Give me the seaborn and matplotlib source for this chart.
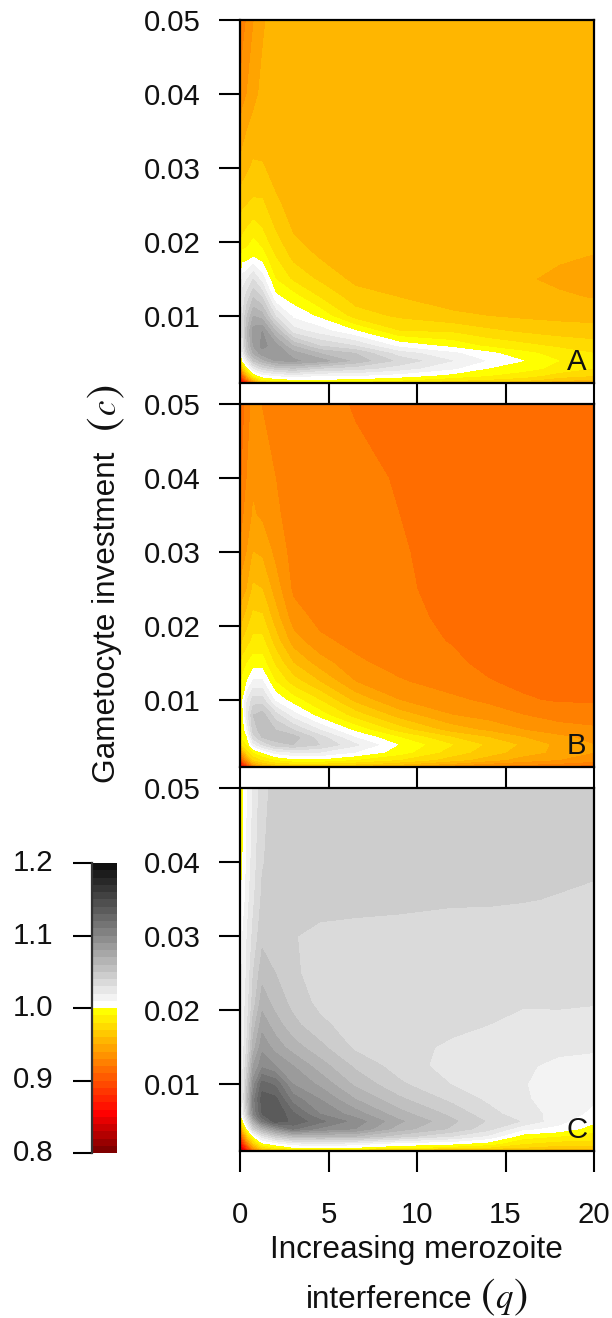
import numpy as np
import matplotlib
matplotlib.use("Agg")
import matplotlib.pyplot as plt
from matplotlib.colors import ListedColormap, BoundaryNorm
import seaborn as sns

# grid of the three surfaces
q_vals = [0, 0.15, 0.4, 0.75, 1.25, 2, 3, 4.5, 6.5, 9, 12, 14, 16, 18, 20]
c_vals = [0.001, 0.0015, 0.002, 0.003, 0.004, 0.005, 0.006, 0.008, 0.01,
          0.0125, 0.015, 0.018, 0.021, 0.025, 0.03, 0.035, 0.04, 0.05]

# one list per q, going up in c
panel_a = [
    [.84, .86, .89, .93, .97, .99, .995, .998, .998, .997, .995, .985, .975, .965, .952, .942, .93, .92],
    [.85, .88, .91, .96, 1.0, 1.015, 1.025, 1.03, 1.03, 1.025, 1.015, .995, .98, .968, .955, .946, .936, .925],
    [.875, .92, .955, .995, 1.02, 1.045, 1.055, 1.06, 1.05, 1.035, 1.02, .995, .983, .97, .958, .95, .94, .931],
    [.92, .96, .99, 1.02, 1.05, 1.07, 1.08, 1.085, 1.07, 1.05, 1.03, 1.0, .988, .972, .962, .953, .947, .939],
    [.96, .99, 1.005, 1.035, 1.065, 1.085, 1.093, 1.09, 1.065, 1.04, 1.015, .995, .982, .972, .961, .955, .952, .948],
    [.975, .997, 1.01, 1.045, 1.08, 1.09, 1.085, 1.06, 1.03, 1.003, .99, .98, .971, .962, .956, .955, .955, .955],
    [.98, 1.0, 1.015, 1.05, 1.082, 1.075, 1.06, 1.025, 1.008, .995, .978, .967, .96, .956, .955, .955, .955, .955],
    [.985, 1.0, 1.01, 1.04, 1.075, 1.06, 1.04, 1.015, .998, .98, .968, .959, .956, .955, .955, .955, .955, .955],
    [.985, .998, 1.01, 1.035, 1.057, 1.05, 1.03, 1.001, .975, .965, .957, .955, .955, .955, .955, .955, .955, .955],
    [.98, .993, 1.005, 1.025, 1.037, 1.025, 1.007, .98, .968, .96, .955, .955, .955, .955, .955, .955, .955, .955],
    [.97, .985, .996, 1.012, 1.02, 1.012, .997, .978, .962, .955, .953, .954, .955, .955, .955, .955, .955, .955],
    [.965, .98, .99, 1.0, 1.009, 1.003, .988, .972, .96, .954, .952, .953, .955, .955, .955, .955, .955, .955],
    [.96, .975, .985, .994, 1.0, .993, .983, .968, .958, .953, .951, .952, .954, .955, .955, .955, .955, .955],
    [.95, .965, .975, .987, .99, .986, .978, .965, .957, .9515, .948, .951, .954, .955, .955, .955, .955, .955],
    [.945, .96, .97, .98, .985, .98, .975, .963, .957, .9495, .946, .9495, .953, .955, .955, .955, .955, .955],
]

panel_b = [
    [.84, .86, .88, .92, .95, .975, .985, .99, .99, .985, .975, .96, .95, .94, .93, .92, .915, .905],
    [.855, .885, .915, .95, .98, .993, .992, .997, .999, .993, .985, .97, .958, .945, .935, .928, .922, .915],
    [.875, .915, .94, .975, .99, .998, 1.01, 1.025, 1.02, 1.0, .99, .975, .965, .95, .94, .935, .93, .925],
    [.91, .95, .97, .99, 1.015, 1.035, 1.045, 1.05, 1.035, 1.012, .995, .983, .973, .962, .95, .941, .938, .933],
    [.94, .965, .98, 1.0, 1.03, 1.05, 1.055, 1.055, 1.035, 1.012, .995, .983, .972, .96, .948, .938, .935, .9295],
    [.95, .975, .99, 1.015, 1.045, 1.056, 1.05, 1.035, 1.008, .99, .978, .965, .955, .945, .937, .932, .93, .927],
    [.955, .98, .997, 1.02, 1.05, 1.055, 1.04, 1.015, .995, .975, .96, .945, .935, .928, .926, .925, .925, .925],
    [.955, .98, .998, 1.02, 1.04, 1.035, 1.02, .995, .98, .96, .945, .932, .927, .925, .924, .923, .923, .922],
    [.95, .975, .99, 1.01, 1.022, 1.01, .997, .975, .957, .94, .932, .927, .925, .923, .923, .922, .9215, .9195],
    [.945, .965, .98, .995, .999, .99, .975, .955, .94, .931, .926, .923, .922, .9215, .921, .92, .9195, .917],
    [.93, .95, .965, .975, .98, .97, .955, .94, .932, .925, .9215, .9195, .9185, .917, .916, .915, .915, .915],
    [.925, .94, .955, .965, .968, .96, .948, .935, .928, .9205, .918, .916, .915, .915, .915, .915, .915, .915],
    [.92, .935, .945, .955, .958, .95, .94, .93, .921, .918, .916, .915, .915, .915, .915, .915, .915, .915],
    [.915, .93, .94, .947, .947, .942, .935, .925, .919, .917, .915, .915, .915, .915, .915, .915, .915, .915],
    [.91, .925, .935, .94, .94, .937, .932, .924, .919, .916, .915, .915, .915, .915, .915, .915, .915, .915],
]

panel_c = [
    [.82, .835, .85, .885, .93, .975, 1.0, 1.001, 1.002, 1.003, 1.004, 1.005, 1.006, 1.006, 1.004, .999, .9965, .993],
    [.83, .85, .875, .92, .96, .995, 1.01, 1.02, 1.02, 1.018, 1.015, 1.014, 1.014, 1.012, 1.01, 1.002, .9995, .996],
    [.865, .89, .92, .965, 1.0, 1.025, 1.045, 1.055, 1.05, 1.04, 1.032, 1.028, 1.025, 1.022, 1.02, 1.016, 1.012, 1.009],
    [.905, .94, .965, 1.0, 1.04, 1.07, 1.10, 1.105, 1.095, 1.08, 1.065, 1.055, 1.045, 1.04, 1.033, 1.028, 1.025, 1.021],
    [.945, .975, .997, 1.025, 1.065, 1.11, 1.13, 1.135, 1.125, 1.097, 1.087, 1.076, 1.066, 1.056, 1.047, 1.042, 1.039, 1.036],
    [.96, .99, 1.005, 1.045, 1.09, 1.135, 1.14, 1.133, 1.118, 1.09, 1.076, 1.065, 1.056, 1.05, 1.047, 1.046, 1.045, 1.044],
    [.965, 1.0, 1.015, 1.06, 1.112, 1.128, 1.122, 1.105, 1.09, 1.08, 1.065, 1.053, 1.047, 1.042, 1.0405, 1.045, 1.045, 1.045],
    [.965, 1.002, 1.02, 1.06, 1.098, 1.113, 1.10, 1.09, 1.078, 1.065, 1.053, 1.043, 1.037, 1.035, 1.0375, 1.044, 1.046, 1.046],
    [.96, 1.0, 1.015, 1.06, 1.09, 1.096, 1.085, 1.07, 1.058, 1.048, 1.038, 1.034, 1.034, 1.035, 1.037, 1.043, 1.045, 1.046],
    [.955, .995, 1.005, 1.045, 1.065, 1.072, 1.064, 1.052, 1.042, 1.035, 1.034, 1.033, 1.033, 1.034, 1.037, 1.042, 1.044, 1.046],
    [.945, .985, 1.002, 1.03, 1.048, 1.052, 1.047, 1.037, 1.0295, 1.026, 1.028, 1.0325, 1.033, 1.034, 1.0365, 1.041, 1.044, 1.045],
    [.95, .98, .995, 1.018, 1.034, 1.039, 1.034, 1.028, 1.023, 1.0215, 1.025, 1.03, 1.032, 1.034, 1.036, 1.041, 1.044, 1.045],
    [.955, .97, .98, .995, 1.012, 1.029, 1.024, 1.021, 1.0205, 1.021, 1.022, 1.027, 1.031, 1.033, 1.036, 1.0404, 1.043, 1.045],
    [.95, .965, .975, .99, 1.007, 1.013, 1.0165, 1.0165, 1.016, 1.0185, 1.0215, 1.0275, 1.031, 1.034, 1.036, 1.0396, 1.042, 1.044],
    [.95, .965, .975, .985, .995, 1.002, 1.007, 1.0115, 1.014, 1.0175, 1.021, 1.0265, 1.0305, 1.034, 1.036, 1.0385, 1.0415, 1.043],
]

letters = ["A", "B", "C"]
y_ticks = [0.01, 0.02, 0.03, 0.04, 0.05]
y_labels = ["0.01", "0.02", "0.03", "0.04", "0.05"]
x_ticks = [0, 5, 10, 15, 20]
bar_labels = ["1.2", "1.1", "1.0", "0.9", "0.8"]
levels = np.round(np.arange(0.80, 1.2001, 0.01), 2)

sns.set_style("ticks")
plt.rcParams["font.family"] = "Liberation Sans"
plt.rcParams["mathtext.fontset"] = "stix"
fs = 21.2
fs_lab = 22.7

# red to yellow below 1, white to black above
colours = (sns.blend_palette(["#800000", "#ff0000"], 6)
           + sns.blend_palette(["#ff0000", "#ffff00"], 15)[1:]
           + sns.blend_palette(["#ffffff", "#101010"], 20))
cmap = ListedColormap(colours)
norm = BoundaryNorm(levels, cmap.N)

W, H = 612, 1318
fig = plt.figure(figsize=(W / 100, H / 100), dpi=100, facecolor="white")

def box(x0, y0, x1, y1):
    return [x0 / W, 1 - y1 / H, (x1 - x0) / W, (y1 - y0) / H]

def label(x, y, s, **kw):
    fig.text(x / W, 1 - y / H, s, color="#111111", **kw)

tops = [20, 404, 788]
for i, z in enumerate([panel_a, panel_b, panel_c]):
    ax = fig.add_axes(box(240, tops[i], 594, tops[i] + 363))
    ax.contourf(q_vals, c_vals, np.array(z).T, levels=levels, cmap=cmap, norm=norm)
    ax.set_xlim(0, 20)
    ax.set_ylim(0.001, 0.05)
    ax.set_yticks(y_ticks)
    ax.set_yticklabels(y_labels)
    ax.set_xticks(x_ticks)
    if i < 2:
        ax.set_xticklabels([])
    ax.tick_params(axis="y", length=15, width=1.5, pad=13.5, labelsize=fs, color="black", labelcolor="#111111")
    ax.tick_params(axis="x", length=15, width=1.5, pad=21, labelsize=fs, color="black", labelcolor="#111111")
    for s in ax.spines.values():
        s.set_linewidth(1.6)
        s.set_color("black")
    ax.text(19.03, 0.0039, letters[i], fontsize=fs, ha="center", va="center", color="#111111")

# legend bar
cax = fig.add_axes(box(92, 863, 117, 1153))
bar_vals = ((levels[:-1] + levels[1:]) / 2)[::-1].reshape(-1, 1)
sns.heatmap(bar_vals, cmap=cmap, norm=norm, cbar=False, xticklabels=False, ax=cax)
cax.set_yticks([0, 10, 20, 30, 40])
cax.set_yticklabels(bar_labels, rotation=0)
cax.tick_params(axis="y", length=14, width=1.5, pad=14, labelsize=fs, color="black", labelcolor="#111111")
cax.set_ylabel("")
sns.despine(ax=cax, left=False, right=True, top=True, bottom=True)
cax.spines["left"].set_linewidth(1.6)
cax.spines["left"].set_color("#333333")

# axis titles, the brackets are taller than the text
label(115, 617, "Gametocyte investment", rotation=90, rotation_mode="anchor",
      fontsize=fs_lab, ha="center", va="baseline")
label(106, 424, "$($", rotation=90, fontsize=31, ha="center", va="center")
label(107, 408, "$c$", rotation=90, fontsize=25, ha="center", va="center")
label(106, 392, "$)$", rotation=90, fontsize=31, ha="center", va="center")

label(416.5, 1258, "Increasing merozoite", fontsize=fs_lab, ha="center", va="baseline")
label(389.5, 1308, "interference", fontsize=fs_lab, ha="center", va="baseline")
label(488, 1297, "$($", fontsize=31, ha="center", va="center")
label(504, 1308, "$q$", fontsize=25, ha="center", va="baseline")
label(520, 1297, "$)$", fontsize=31, ha="center", va="center")

fig.savefig("out.png", dpi=100, facecolor="white")
